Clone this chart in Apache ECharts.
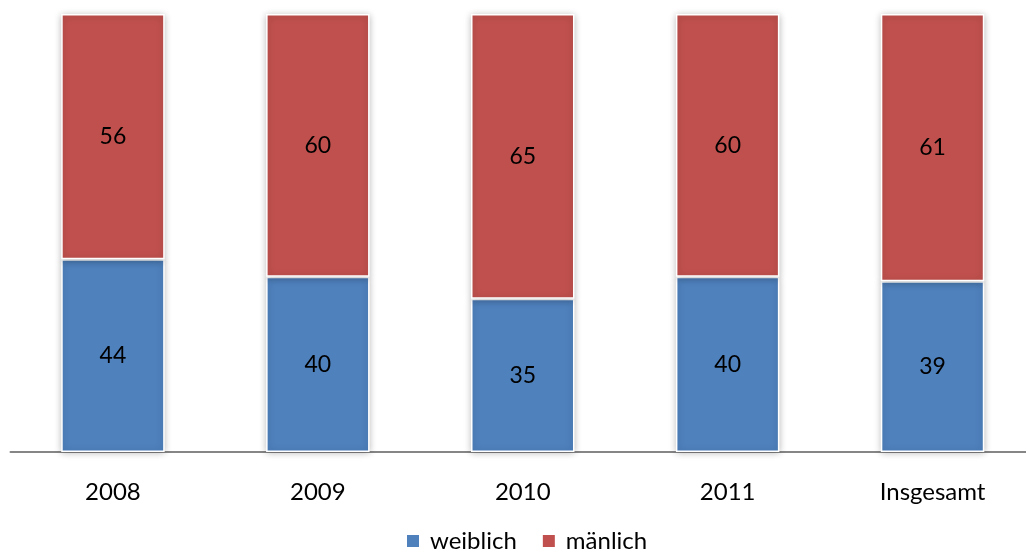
<!DOCTYPE html>
<html>
<head>
<meta charset="utf-8">
<script src="https://cdn.jsdelivr.net/npm/echarts@6/dist/echarts.min.js"></script>
<style>
  html, body { margin: 0; padding: 0; background: #ffffff; }
  #chart { width: 1026px; height: 554px; }
</style>
</head>
<body>
<div id="chart"></div>
<script>
// Anteile nach Geschlecht (Prozent)
const categories = ['2008', '2009', '2010', '2011', 'Insgesamt'];
const weiblich = [44, 40, 35, 40, 39];
const maennlich = [56, 60, 65, 60, 61];

const FONT = 'Lato, "Open Sans", sans-serif';

const barStyle = (color) => ({
  color: color,
  borderColor: '#ffffff',
  borderWidth: 1.5,
  shadowBlur: 7,
  shadowColor: 'rgba(0,0,0,0.28)',
  shadowOffsetX: 0,
  shadowOffsetY: 1
});

const labelStyle = {
  show: true,
  position: 'inside',
  color: '#000000',
  fontFamily: FONT,
  fontSize: 23
};

const chart = echarts.init(document.getElementById('chart'), null, { renderer: 'canvas' });
chart.setOption({
  animation: false,
  backgroundColor: '#ffffff',
  // plot area runs a little past the right edge so the category pitch fits the bars
  grid: { left: 10.5, width: 1024.5, top: 14, bottom: 102, outerBoundsMode: 'none', containLabel: false },
  legend: {
    top: 524,
    left: 400,
    itemWidth: 14,
    itemHeight: 14,
    itemGap: 24,
    icon: 'rect',
    textStyle: { fontFamily: FONT, fontSize: 24, color: '#000000', padding: [0, 0, 0, 5] },
    data: ['weiblich', 'mänlich']
  },
  xAxis: {
    type: 'category',
    data: categories,
    axisLine: { lineStyle: { color: '#868686', width: 2 } },
    axisTick: { show: false },
    axisLabel: { fontFamily: FONT, fontSize: 24, color: '#000000', margin: 28 }
  },
  yAxis: {
    type: 'value',
    min: 0,
    max: 100,
    show: false
  },
  series: [
    {
      name: 'weiblich',
      type: 'bar',
      stack: 'gesamt',
      data: weiblich,
      barCategoryGap: '49.5%',
      itemStyle: barStyle('#4F81BD'),
      label: labelStyle
    },
    {
      name: 'mänlich',
      type: 'bar',
      stack: 'gesamt',
      data: maennlich,
      barCategoryGap: '49.5%',
      itemStyle: barStyle('#C0504D'),
      label: labelStyle
    }
  ]
});
</script>
</body>
</html>
